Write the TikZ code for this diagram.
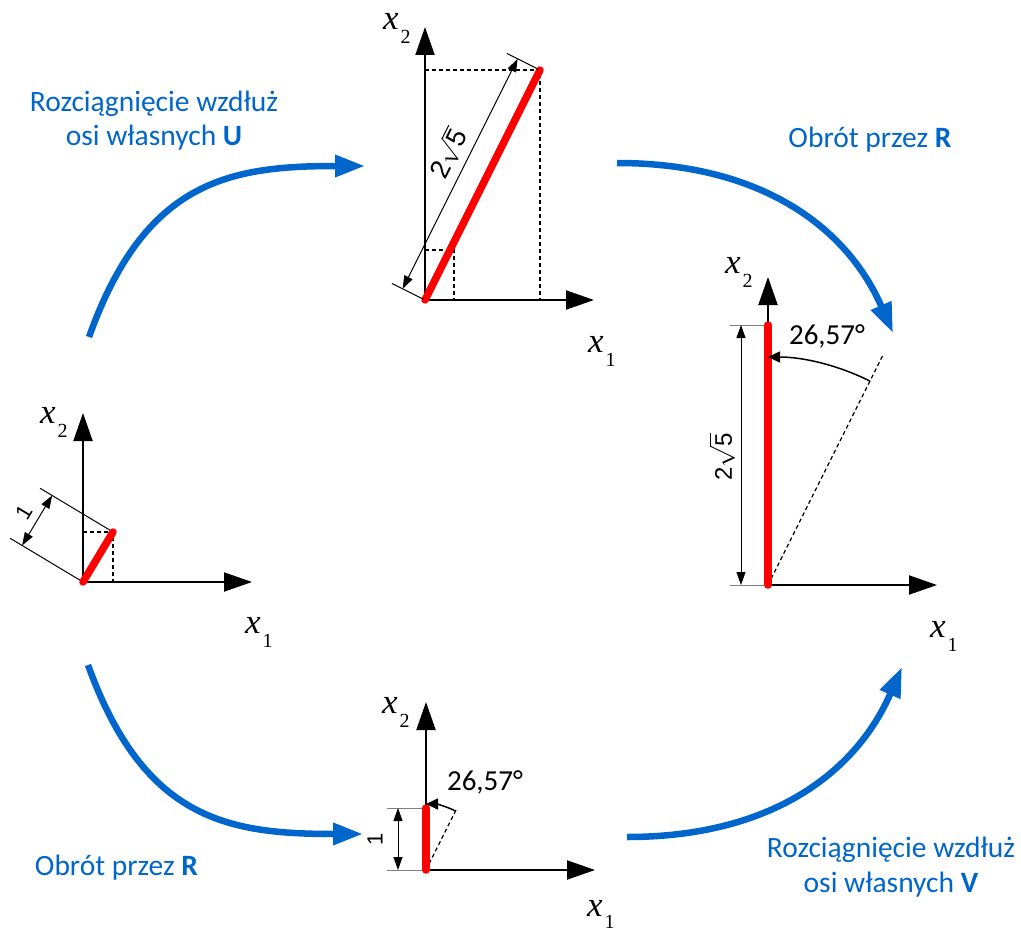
\documentclass[tikz,border=0pt]{standalone}
\usepackage{amsmath}
\usepackage{fontspec}
\setmainfont{Carlito}
\newfontfamily\serifx{Liberation Serif}
\newfontfamily\dimfont{Liberation Sans}
\usetikzlibrary{arrows.meta,calc}
\definecolor{flowblue}{HTML}{0066CC}
\definecolor{vecred}{HTML}{FF0000}
\definecolor{extgray}{HTML}{7F7F7F}
\newcommand{\axl}[1]{{\serifx\fontsize{35}{35}\selectfont\itshape x}\kern2pt\raisebox{-14pt}{\serifx\fontsize{20}{20}\selectfont #1}}
\newcommand{\twosqrtfive}{\dimfont 2$\sqrt{\text{\dimfont 5}}$}
\begin{document}
\begin{tikzpicture}[x=1pt,y=-1pt,
  axis/.style={line width=2pt,-{Triangle[length=28pt,width=19pt]}},
  vec/.style={line width=7.5pt,vecred,line cap=round},
  guide/.style={line width=1.5pt,dash pattern=on 4pt off 3pt},
  extline/.style={line width=1pt},
  dimline/.style={line width=1pt,{Triangle[length=13pt,width=9pt]}-{Triangle[length=13pt,width=9pt]}},
  anglearrow/.style={line width=1.5pt,-{Triangle[length=12pt,width=11pt]}},
  flow/.style={line width=6.5pt,flowblue,-{Triangle[length=30pt,width=21pt]}},
  caption/.style={text=flowblue,font=\fontsize{29.5}{35}\selectfont,align=center,inner sep=0pt,anchor=base},
  axlabel/.style={inner sep=0pt,anchor=base west},
  dimlabel/.style={font=\fontsize{24}{24}\selectfont,inner sep=0pt},
  onelabel/.style={font=\dimfont\fontsize{22}{22}\selectfont,inner sep=0pt},
  anglabel/.style={font=\fontsize{29}{29}\selectfont,inner sep=0pt},
]
\useasboundingbox (0,0) rectangle (1021,934);

% ---------------- top diagram ----------------
\coordinate (tO) at (425,300);
\coordinate (tX) at (594,300);
\coordinate (tY) at (425,27);
\coordinate (tP) at (540,70);
\coordinate (tQ) at (454,250);
\draw[guide] (tO |- tP) -- (tP) -- (tP |- tO);
\draw[guide] (tO |- tQ) -- (tQ) -- (tQ |- tO);
\draw[axis] (tO) -- (tX);
\draw[axis] (tO) -- (tY);
\draw[vec] (tO) -- (tP);
\draw[extline] ($(tO)!2pt!90:(tP)$) -- ($(tO)!37pt!90:(tP)$);
\draw[extline] ($(tP)!2pt!-90:(tO)$) -- ($(tP)!37pt!-90:(tO)$);
\draw[dimline] ($(tO)!25pt!90:(tP)$) -- ($(tP)!25pt!-90:(tO)$)
  node[dimlabel,font=\fontsize{27}{27}\selectfont,sloped,pos=0.55,above=7pt] (tL) {\twosqrtfive};
\node[axlabel] (tx2) at (383,30) {\axl{2}};
\node[axlabel] (tx1) at (588,352) {\axl{1}};

% ---------------- right diagram ----------------
\coordinate (rO) at (768,585);
\coordinate (rX) at (937,585);
\coordinate (rY) at (768,277);
\coordinate (rP) at (768,325);
\coordinate (rD) at ($(rO)+(-63.43:257)$);
\coordinate (rE1) at (730,325);
\coordinate (rE2) at (730,585);
\coordinate (rM1) at (741,325);
\coordinate (rM2) at (741,585);
\draw[guide,line width=1.2pt] (rO) -- (rD);
\draw[axis] (rO) -- (rX);
\draw[axis] (rO) -- (rY);
\draw[extline,extgray] (rP) -- (rE1);
\draw[extline,extgray] (rO) -- (rE2);
\draw[dimline] (rM1) -- (rM2);
\draw[vec] (rO) -- (rP);
\draw[anglearrow] ($(rO)+(-63.43:228)$) arc[start angle=-63.43,end angle=-90,radius=228];
\node[anglabel] (rA) at (827,336) {26,57°};
\node[dimlabel,rotate=90] (rL) at (722,457) {\twosqrtfive};
\node[axlabel] (rx2) at (725,273) {\axl{2}};
\node[axlabel] (rx1) at (930,637) {\axl{1}};

% ---------------- left diagram ----------------
\coordinate (lO) at (83,582);
\coordinate (lX) at (252,582);
\coordinate (lY) at (83,413);
\coordinate (lP) at (113,532);
\draw[guide] (lO |- lP) -- (lP) -- (lP |- lO);
\draw[axis] (lO) -- (lX);
\draw[axis] (lO) -- (lY);
\draw[extline] (lO) -- ($(lO)!85pt!90:(lP)$);
\draw[extline] (lP) -- ($(lP)!85pt!-90:(lO)$);
\draw[dimline] ($(lO)!71pt!90:(lP)$) -- ($(lP)!71pt!-90:(lO)$)
  node[onelabel,sloped,midway,above=7pt] (lL) {1};
\draw[vec] (lO) -- (lP);
\node[axlabel] (lx2) at (40,423) {\axl{2}};
\node[axlabel] (lx1) at (245,633) {\axl{1}};

% ---------------- bottom diagram ----------------
\coordinate (bO) at (426,870);
\coordinate (bX) at (595,870);
\coordinate (bY) at (426,702);
\coordinate (bP) at (426,808);
\coordinate (bD) at ($(bO)+(-63.43:70)$);
\coordinate (bE1) at (387,808);
\coordinate (bE2) at (387,870);
\coordinate (bM1) at (398,808);
\coordinate (bM2) at (398,870);
\draw[guide,line width=1.2pt] (bO) -- (bD);
\draw[axis] (bO) -- (bX);
\draw[axis] (bO) -- (bY);
\draw[extline,extgray] (bP) -- (bE1);
\draw[extline,extgray] (bO) -- (bE2);
\draw[dimline] (bM1) -- (bM2);
\draw[vec] (bO) -- (bP);
\draw[anglearrow] ($(bO)+(-63.43:66)$) arc[start angle=-63.43,end angle=-90,radius=66];
\node[anglabel] (bA) at (485,782) {26,57°};
\node[onelabel,rotate=90] (bL) at (375,839) {1};
\node[axlabel] (bx2) at (382,713) {\axl{2}};
\node[axlabel] (bx1) at (587,916) {{\serifx\fontsize{35}{35}\selectfont\itshape x}\kern2pt\raisebox{-12pt}{\serifx\fontsize{20}{20}\selectfont 1}};

% ---------------- flow arrows ----------------
\draw[flow] (89,337) .. controls (145,180) and (230,166) .. (365,166);
\draw[flow] (617,163) .. controls (767,163) and (849,232) .. (893,333);
\draw[flow] (88,665) .. controls (144,820) and (228,834) .. (363,834);
\draw[flow] (627,837) .. controls (777,837) and (858,768) .. (902,667);

% ---------------- captions ----------------
\node[caption] (c1) at (154,146) {Rozciągnięcie wzdłuż\\osi własnych \textbf{U}};
\node[caption] (c2) at (870,147) {Obrót przez \textbf{R}};
\node[caption] (c3) at (116.5,875) {Obrót przez \textbf{R}};
\node[caption] (c4) at (891,892) {Rozciągnięcie wzdłuż\\osi własnych \textbf{V}};
\end{tikzpicture}
\end{document}
